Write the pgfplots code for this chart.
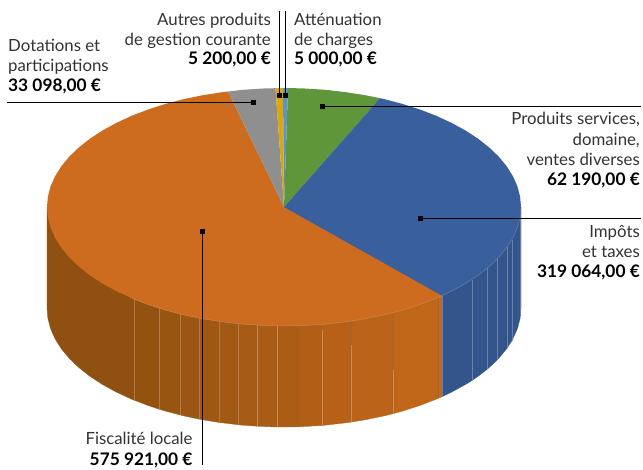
\documentclass[border=0pt]{standalone}
\usepackage{pgfplots}
\pgfplotsset{compat=1.18}
\usepackage{fontspec}
\setmainfont{Lato}
\definecolor{oT}{HTML}{CD6C1F}
\definecolor{bT}{HTML}{39609D}
\definecolor{gT}{HTML}{5F963A}
\definecolor{grT}{HTML}{8F8F8F}
\definecolor{yT}{HTML}{DDA60A}
\definecolor{lT}{HTML}{5E93C6}
\definecolor{bW}{HTML}{34558B}
\definecolor{bL}{HTML}{6A82A9}
\definecolor{oL}{HTML}{C98A55}
\definecolor{oF}{HTML}{B27A48}
\definecolor{oD}{HTML}{A5642B}
\definecolor{txt}{HTML}{333333}
\definecolor{wa}{HTML}{8F5011}
\definecolor{wb}{HTML}{945211}
\definecolor{wc}{HTML}{985411}
\definecolor{wd}{HTML}{9C5512}
\definecolor{we}{HTML}{9F5712}
\definecolor{wf}{HTML}{A25913}
\definecolor{wg}{HTML}{A55B14}
\definecolor{wh}{HTML}{A85C14}
\definecolor{wi}{HTML}{AC5D15}
\definecolor{wj}{HTML}{B15F16}
\definecolor{wk}{HTML}{B66117}
\definecolor{wl}{HTML}{BB6318}
\definecolor{wm}{HTML}{C06619}
\definecolor{wn}{HTML}{BF6A25}
\newcommand{\wall}[2]{\addplot[forget plot,fill=#1,draw=#1,line width=0.3pt] coordinates {#2} --cycle;}
\newcommand{\slice}[2]{\addplot[forget plot,fill=#1,draw=none] coordinates {#2} --cycle;}
\newcommand{\tl}[4]{\node[anchor=#1,inner sep=0pt,text=txt,font=\fontsize{16.8}{19}\selectfont] at (axis cs:#2,#3) {#4};}
\newcommand{\tb}[4]{\node[anchor=#1,inner sep=0pt,text=black,font=\fontsize{17.3}{19}\selectfont\bfseries] at (axis cs:#2,#3) {#4};}
\begin{document}
\begin{tikzpicture}
\begin{axis}[scale only axis,width=643pt,height=470pt,xmin=0,xmax=643,ymin=0,ymax=470,y dir=reverse,axis lines=none,clip=false]
\path (axis cs:0,0) (axis cs:643,470);
% side wall: orange strips
\wall{wa}{(47,207)(134,207)(134,400.1)(131.7,399.2)(116.4,392.1)(102.5,384.5)(89.9,376.3)(78.8,367.5)(69.2,358.3)(61.3,348.7)(55.1,338.8)(50.6,328.7)(47.9,318.4)(47,308)}
\wall{wb}{(134,207)(159,207)(159,409.1)(148.1,405.5)(134,400.1)}
\wall{wc}{(159,207)(180,207)(180,414.9)(165.5,411.1)(159,409.1)}
\wall{wd}{(180,207)(199,207)(199,419.1)(183.8,415.9)(180,414.9)}
\wall{we}{(199,207)(219,207)(219,422.4)(202.9,419.8)(199,419.1)}
\wall{wf}{(219,207)(238,207)(238,424.7)(222.7,422.9)(219,422.4)}
\wall{wg}{(238,207)(257,207)(257,426.2)(242.9,425.2)(238,424.7)}
\wall{wh}{(257,207)(277,207)(277,427)(263.3,426.5)(257,426.2)}
\wall{wi}{(277,207)(299,207)(299,426.8)(284,427)(277,427)}
\wall{wj}{(299,207)(322,207)(322,425.5)(304.7,426.5)(299,426.8)}
\wall{wk}{(322,207)(351,207)(351,422.1)(345.3,422.9)(325.1,425.2)(322,425.5)}
\wall{wl}{(351,207)(393,207)(393,413.7)(384.2,415.9)(365.1,419.8)(351,422.1)}
\wall{wm}{(393,207)(438,207)(438,398.5)(436.3,399.2)(419.9,405.5)(402.5,411.1)(393,413.7)}
\wall{wn}{(438,207)(442,207)(442,396.7)(438,398.5)}
% side wall: blue strips
\wall{bW}{(442,207)(472,207)(472,380.5)(465.5,384.5)(451.6,392.1)(442,396.7)}
\wall{bW}{(472,207)(487,207)(487,369.4)(478.1,376.3)(472,380.5)}
\wall{bW}{(487,207)(497,207)(497,360.2)(489.2,367.5)(487,369.4)}
\wall{bW}{(497,207)(507,207)(507,348.3)(506.7,348.7)(498.8,358.3)(497,360.2)}
\wall{bW}{(507,207)(512,207)(512,340.5)(507,348.3)}
\wall{bW}{(512,207)(521,207)(521,308)(520.1,318.4)(517.4,328.7)(512.9,338.8)(512,340.5)}
% light joints in the wall
\addplot[forget plot,oF,line width=0.45pt] coordinates {(134,299)(134,400)};
\addplot[forget plot,oF,line width=0.45pt] coordinates {(159,308)(159,409)};
\addplot[forget plot,oF,line width=0.45pt] coordinates {(180,314)(180,415)};
\addplot[forget plot,oF,line width=0.45pt] coordinates {(199,318)(199,419)};
\addplot[forget plot,oF,line width=0.45pt] coordinates {(219,321)(219,422)};
\addplot[forget plot,oF,line width=0.45pt] coordinates {(238,324)(238,425)};
\addplot[forget plot,oL,line width=0.45pt] coordinates {(257,325)(257,426)};
\addplot[forget plot,oL,line width=0.5pt] coordinates {(277,326)(277,427)};
\addplot[forget plot,oL,line width=0.5pt] coordinates {(322,325)(322,425)};
\addplot[forget plot,oD,line width=0.6pt] coordinates {(322,325)(322,330)};
\addplot[forget plot,oL,line width=0.5pt] coordinates {(351,345)(351,422)};
\addplot[forget plot,oD,line width=0.6pt] coordinates {(351,321)(351,345)};
\addplot[forget plot,oL,line width=0.5pt] coordinates {(393,370)(393,414)};
\addplot[forget plot,oD,line width=0.6pt] coordinates {(393,313)(393,370)};
\addplot[forget plot,oD,line width=0.8pt] coordinates {(438,298)(438,398)};
\addplot[forget plot,bL,line width=0.7pt] coordinates {(442,296)(442,397)};
\addplot[forget plot,bL,line width=0.45pt] coordinates {(472,280)(472,380)};
\addplot[forget plot,bL,line width=0.45pt] coordinates {(487,268)(487,369)};
\addplot[forget plot,bL,line width=0.45pt] coordinates {(497,259)(497,360)};
\addplot[forget plot,bL,line width=0.45pt] coordinates {(507,247)(507,348)};
\addplot[forget plot,bL,line width=0.45pt] coordinates {(512,240)(512,341)};
\addplot[forget plot,bL,line width=0.6pt] coordinates {(520.6,215)(520.6,316)};
% top surface
\slice{oT}{(284,207)(442,295.7)(436.3,298.2)(419.9,304.5)(402.5,310.1)(384.2,314.9)(365.1,318.8)(345.3,321.9)(325.1,324.2)(304.7,325.5)(284,326)(263.3,325.5)(242.9,324.2)(222.7,321.9)(202.9,318.8)(183.8,314.9)(165.5,310.1)(148.1,304.5)(131.7,298.2)(116.4,291.1)(102.5,283.5)(89.9,275.3)(78.8,266.5)(69.2,257.3)(61.3,247.7)(55.1,237.8)(50.6,227.7)(47.9,217.4)(47,207)(47.9,196.6)(50.6,186.3)(55.1,176.2)(61.3,166.3)(69.2,156.7)(78.8,147.5)(89.9,138.7)(102.5,130.5)(116.4,122.9)(131.7,115.8)(148.1,109.5)(165.5,103.9)(183.8,99.1)(202.9,95.2)(222.7,92.1)(228,91.5)}
\slice{grT}{(284,207)(228,91.5)(242.9,89.8)(263.3,88.5)(275.5,88.2)}
\slice{yT}{(284,207)(275.5,88.2)(283,88)}
\slice{lT}{(284,207)(283,88)(288,88)}
\slice{gT}{(284,207)(288,88)(304.7,88.5)(325.1,89.8)(345.3,92.1)(365.1,95.2)(380,98.2)}
\slice{bT}{(284,207)(380,98.2)(384.2,99.1)(402.5,103.9)(419.9,109.5)(436.3,115.8)(451.6,122.9)(465.5,130.5)(478.1,138.7)(489.2,147.5)(498.8,156.7)(506.7,166.3)(512.9,176.2)(517.4,186.3)(520.1,196.6)(521,207)(520.1,217.4)(517.4,227.7)(512.9,237.8)(506.7,247.7)(498.8,257.3)(489.2,266.5)(478.1,275.3)(465.5,283.5)(451.6,291.1)(442,295.7)}
% rims
\addplot[forget plot,oL,line width=0.45pt] coordinates {(442,295.7)(436.3,298.2)(419.9,304.5)(402.5,310.1)(384.2,314.9)(365.1,318.8)(345.3,321.9)(325.1,324.2)(304.7,325.5)(284,326)(263.3,325.5)(242.9,324.2)(222.7,321.9)(202.9,318.8)(183.8,314.9)(165.5,310.1)(148.1,304.5)(131.7,298.2)};
\addplot[forget plot,bL,line width=0.45pt] coordinates {(521,207)(520.1,217.4)(517.4,227.7)(512.9,237.8)(506.7,247.7)(498.8,257.3)(489.2,266.5)(478.1,275.3)(465.5,283.5)(451.6,291.1)(442,295.7)};
% leaders
\addplot[forget plot,black,line width=0.9pt,mark=square*,mark size=2pt,mark indices={1}] coordinates {(253,102.3)(7,102.3)};
\addplot[forget plot,black,line width=0.9pt,mark=square*,mark size=2pt,mark indices={1}] coordinates {(279,95)(279,11)};
\addplot[forget plot,black,line width=0.9pt,mark=square*,mark size=2pt,mark indices={1}] coordinates {(285,95)(285,11)};
\addplot[forget plot,black,line width=0.9pt,mark=square*,mark size=2pt,mark indices={1}] coordinates {(322,106.8)(641,106.8)};
\addplot[forget plot,black,line width=0.9pt,mark=square*,mark size=2pt,mark indices={1}] coordinates {(420,218.7)(641,218.7)};
\addplot[forget plot,black,line width=0.9pt,mark=square*,mark size=2pt,mark indices={1}] coordinates {(202.3,231)(202.3,465)};
% labels
\tl{base east}{271}{26}{Autres produits}
\tl{base east}{271}{45.5}{de gestion courante}
\tb{base east}{271}{65}{5 200,00 €}
\tl{base west}{294}{26}{Atténuation}
\tl{base west}{294}{45.5}{de charges}
\tb{base west}{294}{65}{5 000,00 €}
\tl{base west}{8}{52}{Dotations et}
\tl{base west}{8}{71.7}{participations}
\tb{base west}{8}{91.7}{33 098,00 €}
\tl{base east}{640}{125}{Produits services,}
\tl{base east}{640}{145.5}{domaine,}
\tl{base east}{640}{166}{ventes diverses}
\tb{base east}{640}{185.7}{62 190,00 €}
\tl{base east}{640}{237.3}{Impôts}
\tl{base east}{640}{257.3}{et taxes}
\tb{base east}{640}{277.3}{319 064,00 €}
\tl{base east}{192.7}{445}{Fiscalité locale}
\tb{base east}{192.7}{465}{575 921,00 €}
\end{axis}
\end{tikzpicture}
\end{document}
